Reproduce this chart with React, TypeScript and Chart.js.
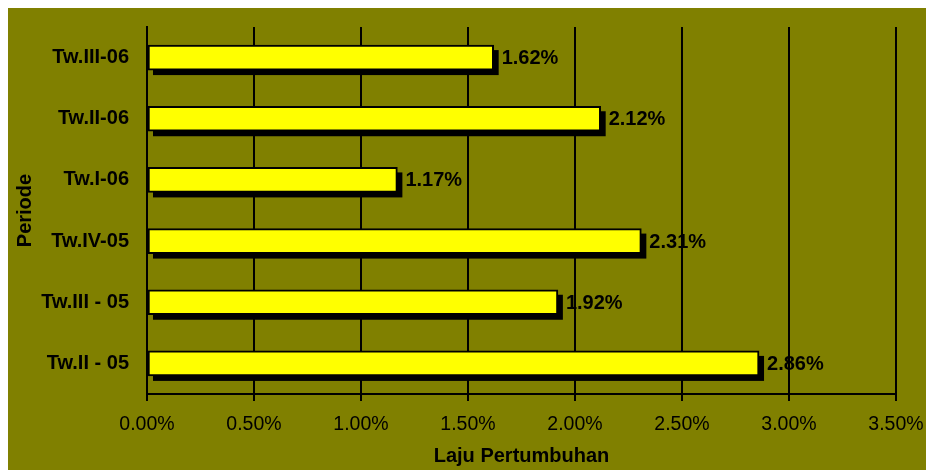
import React, { useEffect, useRef } from "react";
import { Chart, registerables } from "chart.js";

Chart.register(...registerables);

const categories: string[] = ["Tw.II - 05", "Tw.III - 05", "Tw.IV-05", "Tw.I-06", "Tw.II-06", "Tw.III-06"];
const growthValues: number[] = [2.86, 1.92, 2.31, 1.17, 2.12, 1.62];
const xTickMin = 0;
const xTickMax = 3.5;
const xTickStep = 0.5;
const xAxisTitle = "Laju Pertumbuhan";
const yAxisTitle = "Periode";

const OLIVE = "#808000";
const YELLOW = "#FFFF00";
const FONT = "'Liberation Sans', Arial, sans-serif";

const backgroundPlugin = {
  id: "oliveBackground",
  beforeDraw(chart: any) {
    const { ctx, width, height } = chart;
    ctx.save();
    ctx.fillStyle = OLIVE;
    ctx.fillRect(0, 0, width, height);
    ctx.restore();
  },
};

const shadowPlugin = {
  id: "barShadow",
  beforeDatasetsDraw(chart: any) {
    const { ctx } = chart;
    const meta = chart.getDatasetMeta(0);
    ctx.save();
    ctx.fillStyle = "#000";
    meta.data.forEach((bar: any) => {
      const { x, y, base, height } = bar.getProps(["x", "y", "base", "height"], true);
      const off = 5;
      ctx.fillRect(base + off, y - height / 2 + off, x - base, height);
    });
    ctx.restore();
  },
};

const labelPlugin = {
  id: "barValueLabels",
  afterDatasetsDraw(chart: any) {
    const { ctx } = chart;
    const meta = chart.getDatasetMeta(0);
    const data = chart.data.datasets[0].data as number[];
    ctx.save();
    ctx.fillStyle = "#000";
    ctx.font = `bold 20px ${FONT}`;
    ctx.textAlign = "left";
    ctx.textBaseline = "middle";
    meta.data.forEach((bar: any, i: number) => {
      const { x, y } = bar.getProps(["x", "y"], true);
      ctx.fillText(data[i].toFixed(2) + "%", x + 8, y + 1);
    });
    ctx.restore();
  },
};

export default function App() {
  const canvasRef = useRef<HTMLCanvasElement | null>(null);

  useEffect(() => {
    const canvas = canvasRef.current;
    if (!canvas) return;
    const chart = new Chart(canvas, {
      type: "bar",
      data: {
        labels: categories,
        datasets: [
          {
            data: growthValues,
            backgroundColor: YELLOW,
            borderColor: "#000",
            borderWidth: 2,
            borderSkipped: false,
            barThickness: 25,
          },
        ],
      },
      options: {
        indexAxis: "y",
        responsive: false,
        maintainAspectRatio: false,
        animation: false,
        layout: { padding: { left: 0, top: 19, right: 30, bottom: 0 } },
        plugins: {
          legend: { display: false },
          tooltip: { enabled: false },
        },
        scales: {
          x: {
            type: "linear",
            min: xTickMin,
            max: xTickMax,
            ticks: {
              stepSize: xTickStep,
              color: "#000",
              font: { family: FONT, size: 19.5 },
              padding: 12,
              callback: (v: any) => Number(v).toFixed(2) + "%",
            },
            grid: {
              color: "#000",
              lineWidth: 2,
              drawTicks: true,
              tickLength: 7,
              tickColor: "#000",
            },
            border: { display: true, color: "#000", width: 2 },
            title: {
              display: true,
              text: xAxisTitle,
              color: "#000",
              font: { family: FONT, size: 20, weight: "bold" },
              padding: { top: 0, bottom: 2 },
            },
            afterFit: (scale: any) => {
              scale.height = 76;
              scale.paddingLeft = 0;
              scale.paddingRight = 0;
            },
          },
          y: {
            type: "category",
            reverse: true,
            ticks: {
              color: "#000",
              font: { family: FONT, size: 20, weight: "bold" },
              padding: 18,
            },
            grid: { display: false, drawTicks: false, tickLength: 0 },
            border: { display: true, color: "#000", width: 2 },
            title: {
              display: true,
              text: yAxisTitle,
              color: "#000",
              font: { family: FONT, size: 20, weight: "bold" },
              padding: { top: 5, bottom: 0 },
            },
            afterFit: (scale: any) => {
              scale.width = 139;
              scale.paddingTop = 0;
              scale.paddingBottom = 0;
            },
          },
        },
      },
      plugins: [backgroundPlugin, shadowPlugin, labelPlugin],
    });
    return () => chart.destroy();
  }, []);

  return (
    <div style={{ position: "fixed", left: 8, top: 8, width: 918, height: 462, overflow: "hidden" }}>
      <canvas ref={canvasRef} width={918} height={462} style={{ display: "block" }} />
    </div>
  );
}
